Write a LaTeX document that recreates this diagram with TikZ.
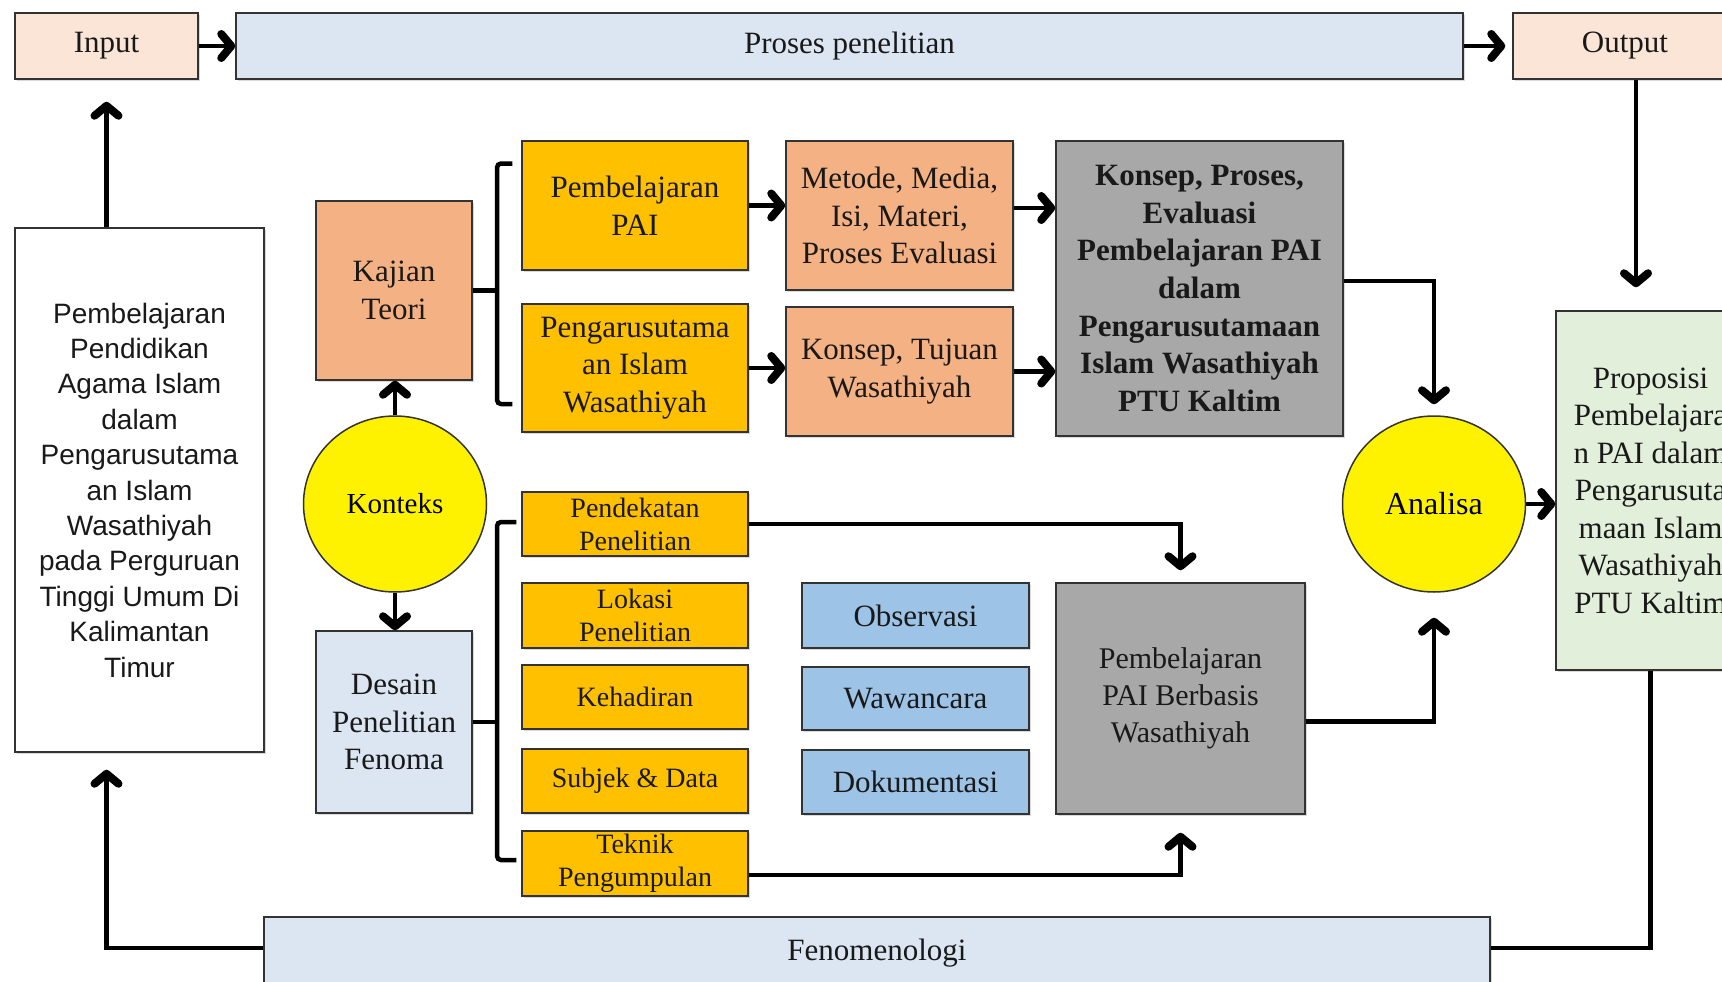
\documentclass[tikz,border=0pt]{standalone}
\usepackage{fontspec}
\setmainfont{Liberation Serif}
\newfontfamily\arialfont{Liberation Sans}
\usetikzlibrary{arrows.meta,shapes.geometric,shadows,calc}

\newcommand\fsz[2]{\fontsize{#1}{#2}\selectfont}

\definecolor{peach}{HTML}{FBE5D6}
\definecolor{lblue}{HTML}{DCE6F2}
\definecolor{salmon}{HTML}{F4B183}
\definecolor{gold}{HTML}{FFC000}
\definecolor{greybox}{HTML}{A9A8A8}
\definecolor{sky}{HTML}{9DC3E6}
\definecolor{lgreen}{HTML}{E2EFDA}
\definecolor{edge}{HTML}{333333}

\begin{document}
\begin{tikzpicture}[x=1pt,y=-1pt,
  box/.style={draw=edge, line width=1.5pt, inner sep=0pt, align=center,
    font=\fsz{31}{37.5}, text=black!90,
    drop shadow={shadow xshift=2pt, shadow yshift=-2pt, opacity=0.3}},
  small/.style={box, fill=gold, font=\fsz{28}{33}, minimum width=226},
  tech/.style={box, fill=sky, minimum width=227},
  blob/.style={ellipse, draw=edge, line width=1.5pt, fill=yellow, inner sep=0pt,
    minimum width=183, minimum height=176, font=\fsz{29}{36}},
  lnk/.style={line width=4.5pt, line cap=rect},
  arr/.style={line width=4.5pt,
    -{Straight Barb[length=10pt,width=24pt,line width=8pt 0,round]}}
]
\useasboundingbox (0,0) rectangle (1722,982);
\clip (0,0) rectangle (1722,982);

% top row
\node[box, fill=peach, minimum width=183, minimum height=66] (in) at (106.5,46) {Input};
\node[box, fill=lblue, minimum width=1227, minimum height=66] (proses) at (849.5,46) {Proses penelitian};
\node[box, fill=peach, minimum width=224, minimum height=66] (out) at (1625,46) {Output};

% left column
\node[box, fill=white, minimum width=249, minimum height=524,
  font=\arialfont\fsz{28}{35.4}] (left) at (139.5,490)
  {Pembelajaran\\Pendidikan\\Agama Islam\\dalam\\Pengarusutama\\an Islam\\Wasathiyah\\pada Perguruan\\Tinggi Umum Di\\Kalimantan\\Timur};

\node[box, fill=salmon, minimum width=156, minimum height=179] (kajian) at (394,290.5) {Kajian\\Teori};
\node[blob] (konteks) at (395,504) {Konteks};
\node[box, fill=lblue, minimum width=156, minimum height=182] (desain) at (394,722) {Desain\\Penelitian\\Fenoma};

% theory branch
\node[box, fill=gold, minimum width=226, minimum height=129] (pai) at (635,205.5) {Pembelajaran\\PAI};
\node[box, fill=gold, minimum width=226, minimum height=128] (peng) at (635,368) {Pengarusutama\\an Islam\\Wasathiyah};
\node[box, fill=salmon, minimum width=227, minimum height=149] (metode) at (899.5,215.5) {Metode, Media,\\Isi, Materi,\\Proses Evaluasi};
\node[box, fill=salmon, minimum width=227, minimum height=129] (ktujuan) at (899.5,371.5) {Konsep, Tujuan\\Wasathiyah};
\node[box, fill=greybox, minimum width=287, minimum height=295, font=\bfseries\fsz{31}{37.7}] (gray1) at (1199.5,288.5)
  {Konsep, Proses,\\Evaluasi\\Pembelajaran PAI\\dalam\\Pengarusutamaan\\Islam Wasathiyah\\PTU Kaltim};

% design branch
\node[small, minimum height=64] (pendekatan) at (635,524) {Pendekatan\\Penelitian};
\node[small, minimum height=65] (lokasi) at (635,615.5) {Lokasi\\Penelitian};
\node[small, minimum height=64] (kehadiran) at (635,697) {Kehadiran};
\node[small, minimum height=64] (subjek) at (635,781) {Subjek \& Data};
\node[small, minimum height=65] (teknik) at (635,863.5) {Teknik\\Pengumpulan};

\node[tech, minimum height=65] (obs) at (915.5,615.5) {Observasi};
\node[tech, minimum height=63] (waw) at (915.5,698.5) {Wawancara};
\node[tech, minimum height=64] (dok) at (915.5,782) {Dokumentasi};

\node[box, fill=greybox, minimum width=249, minimum height=231, font=\fsz{30}{37}] (gray2) at (1180.5,698.5)
  {Pembelajaran\\PAI Berbasis\\Wasathiyah};

% analysis and result
\node[blob] (analisa) at (1434,504) {\fsz{32}{36}Analisa};
\node[box, fill=lgreen, minimum width=189, minimum height=359] (prop) at (1650.5,490.5)
  {Proposisi\\Pembelajara\\n PAI dalam\\Pengarusuta\\maan Islam\\Wasathiyah\\PTU Kaltim};

\node[box, fill=lblue, minimum width=1226, minimum height=72] (fenom) at (877,953) {Fenomenologi};

% connectors along the frame
\draw[arr] (in.east) -- (proses.west);
\draw[arr, shorten >=7pt] (proses.east) -- (out.west);
\draw[arr, shorten >=22pt] (in.south |- left.north) -- (in.south);
\draw[arr, shorten >=17pt] ([yshift=5pt]fenom.west) -| (in.south |- left.south);
\draw[arr, shorten >=23pt] ([xshift=11pt]out.south) -- ([xshift=11pt]out.south |- prop.north);
\draw[lnk, line cap=butt] (prop.south) |- ([yshift=5pt]fenom.east);

% context
\draw[arr] (konteks.north) -- (konteks.north |- kajian.south);
\draw[arr] (konteks.south) -- (konteks.south |- desain.north);

% brackets
\coordinate (kspine) at (497,285);
\draw[lnk, line cap=butt] (kajian.east) -- (kajian.east -| kspine);
\draw[lnk, line cap=butt, rounded corners=4pt] ($(pai.west)+(-9,-42)$) -| (kspine) |- ($(peng.west)+(-9,36)$);
\coordinate (dspine) at (497,722);
\draw[lnk, line cap=butt] (desain.east) -- (desain.east -| dspine);
\draw[lnk, line cap=butt, rounded corners=4pt] ($(pendekatan.west)+(-5,-2)$) -| (dspine) |- ($(teknik.west)+(-5,-3.5)$);

% theory flow
\draw[arr] (pai.east) -- (pai.east -| metode.west);
\draw[arr] ([yshift=7.5pt]metode.east) -- ([yshift=7.5pt]metode.east -| gray1.west);
\draw[arr] (peng.east) -- (peng.east -| ktujuan.west);
\draw[arr] (ktujuan.east) -- (ktujuan.east -| gray1.west);
\draw[arr, shorten >=11pt] ([yshift=7.5pt]gray1.east) -| (analisa.north);

% design flow
\draw[arr, shorten >=12pt] (pendekatan.east) -| (gray2.north);
\draw[arr, shorten >=18pt] ([yshift=-11.5pt]teknik.east) -| (gray2.south);
\draw[arr, shorten >=25pt] ([yshift=-23pt]gray2.east) -| (analisa.south);
\draw[arr] (analisa.east) -- (analisa.east -| prop.west);
\end{tikzpicture}
\end{document}
